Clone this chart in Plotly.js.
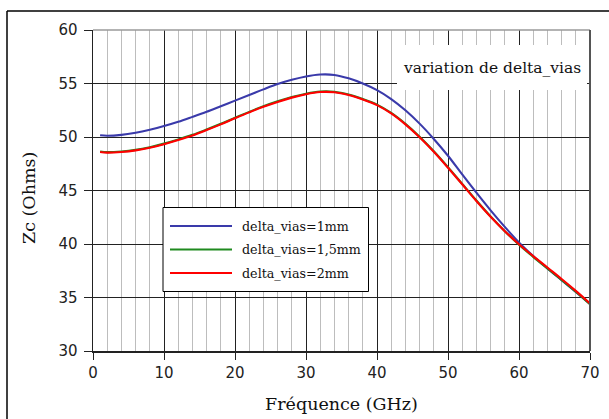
<!DOCTYPE html>
<html>
<head>
<meta charset="utf-8">
<script src="https://cdn.plot.ly/plotly-3.0.1.min.js"></script>
<style>
html,body{margin:0;padding:0;background:#fff;}
#chart{width:609px;height:419px;}
</style>
</head>
<body>
<div id="chart"></div>
<script>
// Frequency axis (GHz)
const freq = [1, 2, 4, 6, 8, 10, 12, 14, 16, 18, 20, 22, 24, 26, 28, 30, 32, 34, 36, 38, 40, 42, 44, 46, 48, 50, 52, 54, 56, 58, 60, 62, 64, 66, 68, 70];
// Zc (Ohms) for each delta_vias
const zc1mm  = [50.16, 50.12, 50.20, 50.40, 50.68, 51.02, 51.42, 51.88, 52.36, 52.88, 53.40, 53.92, 54.45, 54.95, 55.35, 55.66, 55.84, 55.80, 55.48, 55.00, 54.38, 53.55, 52.50, 51.25, 49.82, 48.25, 46.50, 44.80, 43.15, 41.60, 40.15, 38.88, 37.72, 36.62, 35.52, 34.40];
const zc15mm = [48.65, 48.59, 48.65, 48.80, 49.05, 49.38, 49.77, 50.20, 50.70, 51.23, 51.80, 52.35, 52.87, 53.33, 53.73, 54.05, 54.25, 54.23, 53.97, 53.55, 53.03, 52.25, 51.23, 50.03, 48.67, 47.18, 45.62, 44.07, 42.58, 41.20, 39.93, 38.80, 37.72, 36.65, 35.55, 34.37];
const zc2mm  = [48.60, 48.54, 48.60, 48.75, 49.00, 49.33, 49.72, 50.15, 50.65, 51.18, 51.75, 52.30, 52.82, 53.28, 53.68, 54.00, 54.20, 54.18, 53.92, 53.50, 52.98, 52.20, 51.18, 49.98, 48.62, 47.13, 45.58, 44.02, 42.55, 41.20, 39.98, 38.87, 37.80, 36.73, 35.62, 34.45];

const seriesNames  = ['delta_vias=1mm', 'delta_vias=1,5mm', 'delta_vias=2mm'];
const seriesValues = [zc1mm, zc15mm, zc2mm];
const seriesColors = ['#3a3aaa', '#1f8a1f', '#ff0000'];

const xTitle = 'Fréquence (GHz)';
const yTitle = 'Zc (Ohms)';
const noteText = 'variation de delta_vias';

// layout geometry (pixels)
const W = 609, H = 419;
const M = {l: 93, r: 19, t: 30, b: 68};
const PW = W - M.l - M.r, PH = H - M.t - M.b;
const px = x => (x - M.l) / PW;
const py = y => (H - M.b - y) / PH;

const traces = seriesValues.map((v, i) => ({
  x: freq, y: v, type: 'scatter', mode: 'lines', name: seriesNames[i],
  line: {color: seriesColors[i], width: 2.1, shape: 'spline', smoothing: 1},
  showlegend: false, hoverinfo: 'skip'
}));

const serif = 'DejaVu Serif, serif';
const shapes = [];
const annotations = [];

// white box behind the note
shapes.push({type: 'rect', xref: 'paper', yref: 'paper', layer: 'above',
  x0: px(397), x1: px(587), y0: py(90), y1: py(45),
  fillcolor: '#fff', line: {width: 0}});
annotations.push({xref: 'paper', yref: 'paper', x: px(492), y: py(68),
  xanchor: 'center', yanchor: 'middle', showarrow: false, text: noteText,
  font: {family: serif, size: 15.5, color: '#111'}});

// legend box
shapes.push({type: 'rect', xref: 'paper', yref: 'paper', layer: 'above',
  x0: px(163), x1: px(368.5), y0: py(291.5), y1: py(207.5),
  fillcolor: '#fff', line: {color: '#000', width: 1}});
const rowY = [226, 249.5, 273];
seriesNames.forEach((n, i) => {
  shapes.push({type: 'line', xref: 'paper', yref: 'paper', layer: 'above',
    x0: px(170), x1: px(232), y0: py(rowY[i]), y1: py(rowY[i]),
    line: {color: seriesColors[i], width: 2.2}});
  annotations.push({xref: 'paper', yref: 'paper', x: px(240), y: py(rowY[i]),
    xanchor: 'left', yanchor: 'middle', showarrow: false, text: n,
    font: {family: serif, size: 12.7, color: '#111'}});
});

// y axis title
annotations.push({xref: 'paper', yref: 'paper', x: px(29), y: py(198),
  xanchor: 'center', yanchor: 'middle', showarrow: false, text: yTitle, textangle: -90,
  font: {family: serif, size: 17.5, color: '#111'}});

// plot frame top/right
shapes.push({type: 'line', xref: 'paper', yref: 'paper', layer: 'above',
  x0: 0, x1: 1, y0: 1, y1: 1, line: {color: '#9a9a9a', width: 1.5}});
shapes.push({type: 'line', xref: 'paper', yref: 'paper', layer: 'above',
  x0: 1, x1: 1, y0: 0, y1: 1, line: {color: '#555', width: 2}});

// outer figure frame (top and left)
shapes.push({type: 'line', xref: 'paper', yref: 'paper',
  x0: px(7), x1: px(W + 2), y0: py(11), y1: py(11), line: {color: '#000', width: 1.5}});
shapes.push({type: 'line', xref: 'paper', yref: 'paper',
  x0: px(7), x1: px(7), y0: py(11), y1: py(H + 2), line: {color: '#000', width: 1.5}});

const layout = {
  width: W, height: H,
  margin: M,
  paper_bgcolor: '#fff', plot_bgcolor: '#fff',
  showlegend: false,
  font: {family: 'DejaVu Sans, sans-serif', size: 15, color: '#222'},
  xaxis: {
    range: [0, 70], dtick: 10, tick0: 0,
    showgrid: true, gridcolor: '#222', gridwidth: 1,
    minor: {dtick: 2, showgrid: true, gridcolor: '#bdbdbd', gridwidth: 1.3, ticks: ''},
    showline: true, linecolor: '#222', linewidth: 1.5,
    ticks: 'outside', ticklen: 7, tickcolor: '#222', tickwidth: 1,
    zeroline: false, fixedrange: true,
    tickfont: {family: 'DejaVu Sans, sans-serif', size: 15, color: '#222'},
    title: {text: xTitle, font: {family: serif, size: 17.5, color: '#111'}, standoff: 17}
  },
  yaxis: {
    range: [30, 60], dtick: 5, tick0: 30,
    showgrid: true, gridcolor: '#222', gridwidth: 1,
    showline: true, linecolor: '#222', linewidth: 1.5,
    ticks: 'outside', ticklen: 8, tickcolor: '#222', tickwidth: 1,
    ticklabelstandoff: 3,
    zeroline: false, fixedrange: true,
    tickfont: {family: 'DejaVu Sans, sans-serif', size: 15, color: '#222'}
  },
  shapes: shapes,
  annotations: annotations
};

Plotly.newPlot('chart', traces, layout, {displayModeBar: false, staticPlot: true});
</script>
</body>
</html>
